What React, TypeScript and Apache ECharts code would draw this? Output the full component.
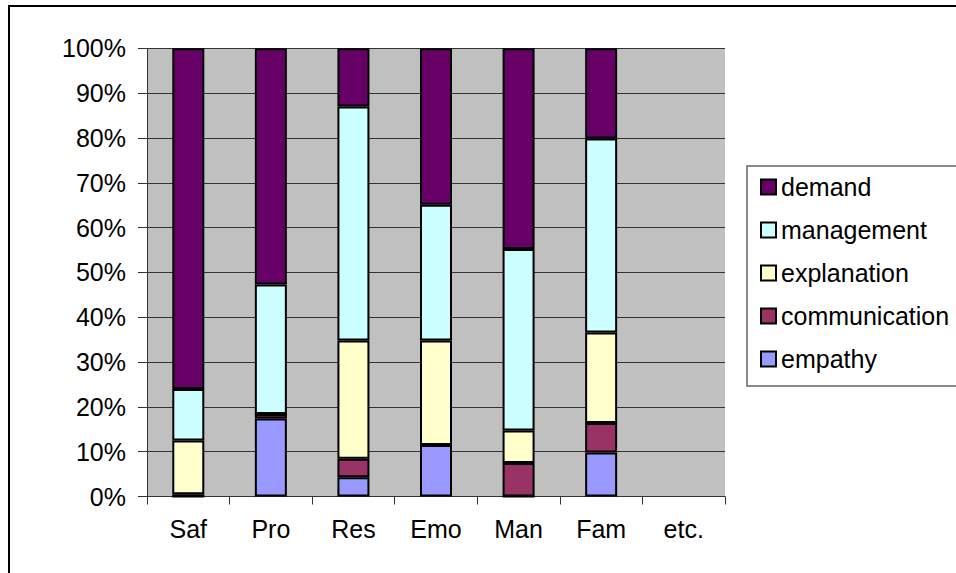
import React, { useEffect, useRef } from "react";
import * as echarts from "echarts";

const categories = ["Saf", "Pro", "Res", "Emo", "Man", "Fam", "etc."];
const empathy = [0, 17.4, 4.3, 11.5, 0, 9.8, null];
const communication = [0.5, 1.0, 4.1, 0, 7.5, 6.6, null];
const explanation = [12.0, 0, 26.4, 23.3, 7.2, 20.2, null];
const management = [11.5, 28.9, 52.2, 30.3, 40.5, 43.3, null];
const demand = [76.0, 52.7, 13.0, 34.9, 44.8, 20.1, null];
const yTicks = [0, 10, 20, 30, 40, 50, 60, 70, 80, 90, 100];

const seriesDefs = [
  { name: "empathy", data: empathy, color: "#9999FF" },
  { name: "communication", data: communication, color: "#993366" },
  { name: "explanation", data: explanation, color: "#FFFFCC" },
  { name: "management", data: management, color: "#CCFFFF" },
  { name: "demand", data: demand, color: "#660066" },
];

const FONT = "'Liberation Sans', Arial, sans-serif";

export default function App() {
  const ref = useRef<HTMLDivElement>(null);
  useEffect(() => {
    if (!ref.current) return;
    const chart = echarts.init(ref.current, null, { renderer: "svg" });
    chart.setOption({
      animation: false,
      backgroundColor: "#ffffff",
      textStyle: { fontFamily: FONT },
      grid: {
        left: 147,
        top: 48.3,
        width: 578,
        height: 448.2,
        show: true,
        backgroundColor: "#C0C0C0",
        borderWidth: 0,
      },
      legend: {
        orient: "vertical",
        left: 760,
        top: 173,
        padding: 0,
        itemWidth: 15,
        itemHeight: 15,
        itemGap: 15,
        icon: "rect",
        data: ["demand", "management", "explanation", "communication", "empathy"],
        textStyle: { fontFamily: FONT, fontSize: 25, color: "#000", lineHeight: 28 },
      },
      xAxis: {
        type: "category",
        data: categories,
        boundaryGap: true,
        axisLine: { lineStyle: { color: "#333", width: 1 } },
        axisTick: { show: true, length: 8, alignWithLabel: false, lineStyle: { color: "#333" } },
        axisLabel: { fontFamily: FONT, fontSize: 25, color: "#000", margin: 20, interval: 0 },
      },
      yAxis: {
        type: "value",
        min: 0,
        max: 100,
        interval: 10,
        axisLine: { show: true, lineStyle: { color: "#333", width: 1 } },
        axisTick: { show: true, length: 9, lineStyle: { color: "#333" } },
        axisLabel: {
          fontFamily: FONT,
          fontSize: 25,
          color: "#000",
          margin: 21,
          formatter: (v: number) => (yTicks.includes(v) ? v + "%" : ""),
        },
        splitLine: { show: true, lineStyle: { color: "#333", width: 1 } },
      },
      series: seriesDefs.map((s) => ({
        name: s.name,
        type: "bar",
        stack: "total",
        barWidth: 32,
        data: s.data,
        itemStyle: { color: s.color, borderColor: "#000", borderWidth: 2 },
      })),
      graphic: [
        {
          type: "rect",
          shape: { x: 9, y: 6, width: 1200, height: 1000 },
          style: { fill: "none", stroke: "#000", lineWidth: 2 },
          silent: true,
        },
        {
          type: "rect",
          shape: { x: 747, y: 166, width: 400, height: 220 },
          style: { fill: "none", stroke: "#666", lineWidth: 1.5 },
          silent: true,
        },
      ],
    });
    return () => chart.dispose();
  }, []);
  return (
    <div
      ref={ref}
      style={{ position: "fixed", left: 0, top: 0, width: 956, height: 573 }}
    />
  );
}
